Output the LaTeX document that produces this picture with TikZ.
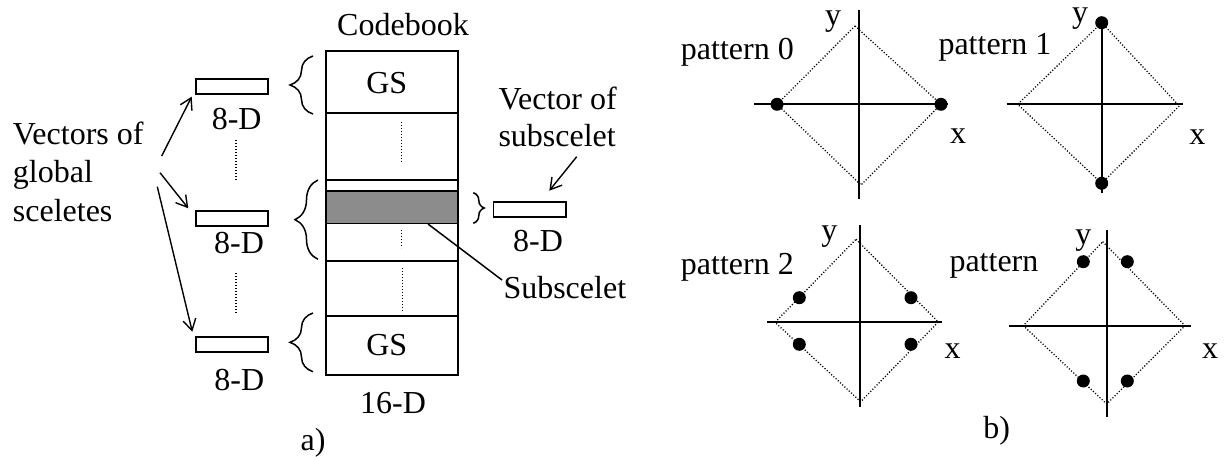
\documentclass[tikz,border=0pt]{standalone}
\usepackage{fontspec}
\setmainfont{Liberation Serif}
\usetikzlibrary{arrows.meta,decorations.pathreplacing}
\begin{document}
\begin{tikzpicture}[x=1pt,y=-1pt,
  every node/.style={inner sep=0pt, font=\fontsize{32}{38.3}\selectfont},
  cell/.style={draw, line width=1.8pt, minimum width=132pt},
  vec/.style={draw, line width=1.8pt, minimum width=72.6pt, minimum height=14.8pt},
  dotl/.style={line width=1.2pt, dash pattern=on 1.1pt off 1.9pt},
  arr/.style={line width=1.4pt, -{Straight Barb[length=11pt,width=13pt,line width=1.4pt]}},
  brc/.style={decorate, decoration={brace, amplitude=#1}, line width=1.5pt},
  axis/.style={line width=2pt},
  diam/.style={line width=1.3pt, dash pattern=on 1.1pt off 1.9pt},
  dot/.style={circle, fill, minimum size=13pt}
]
\useasboundingbox (0,0) rectangle (1224,457);

% ---------- part a) ----------
\node[anchor=base] (cbk) at (403,36) {Codebook};
\node[cell, minimum height=62pt] (r1) at (392,81.7) {};
\node[cell, minimum height=67.3pt] (r2) at (392,146.35) {};
\node[cell, minimum height=10.7pt] (r3) at (392,185.35) {};
\node[cell, minimum height=32.8pt, fill=black!45] (r4) at (392,207.1) {};
\node[cell, minimum height=37.2pt] (r5) at (392,242.1) {};
\node[cell, minimum height=55pt] (r6) at (392,288.2) {};
\node[cell, minimum height=59.3pt] (r7) at (392,345.35) {};
\node[anchor=base] (gs1) at (386.7,93.3) {GS};
\node[anchor=base] (gs2) at (386.7,355) {GS};
\node[anchor=base] (d16) at (393,413.3) {16-D};
\node[anchor=base] (la) at (313,450) {a)};

\draw[dotl] (401.7,121.7) -- (401.7,163);
\draw[dotl] (401.7,230) -- (401.7,248);
\draw[dotl] (402.7,268) -- (402.7,313);

% left vectors
\node[vec] (v1) at (232,86.35) {};
\node[vec] (v2) at (232,218.5) {};
\node[vec] (v3) at (232,344.2) {};
\node[anchor=base] (d1) at (236.7,129.3) {8-D};
\node[anchor=base] (d2) at (239,253.3) {8-D};
\node[anchor=base] (d3) at (239.3,390.7) {8-D};
\draw[dotl] (236,140) -- (236,181.7);
\draw[dotl] (236,273.3) -- (236,315);

% braces
\draw[brc=23pt] (313,114) -- (313,56);
\draw[brc=23pt] (318,259.3) -- (318,180);
\draw[brc=23pt] (313,371.7) -- (313,313);
\draw[brc=11pt] (473.3,192.7) -- (473.3,223.3);

% left text and arrows
\node[anchor=north west, align=left] (vg) at (12.7,121.7) {Vectors of\\global\\sceletes};
\coordinate (s1) at (161.7,156);
\coordinate (s2) at (160,172.7);
\coordinate (s3) at (157.3,186.7);
\coordinate (t1) at (191.7,96.7);
\coordinate (t2) at (188.3,208.3);
\coordinate (t3) at (192.3,331.7);
\draw[arr] (s1) -- (t1);
\draw[arr] (s2) -- (t2);
\draw[arr] (s3) -- (t3);

% right vector
\node[vec] (vr) at (529.7,209.8) {};
\node[anchor=base] (dr) at (538,251.7) {8-D};
\node[anchor=base west] (vs1) at (498.3,110) {Vector of};
\node[anchor=base west] (vs2) at (498.3,146.7) {subscelet};
\coordinate (s4) at (576.7,156.7);
\coordinate (t4) at (549.3,190.7);
\draw[arr] (s4) -- (t4);

% subscelet
\node[anchor=base west] (sub) at (503.3,298.3) {Subscelet};
\coordinate (ss) at (428,224);
\coordinate (se) at (502,280);
\draw[line width=1.5pt] (ss) -- (se);

% ---------- part b) ----------
% pattern 0
\node[anchor=base west] (pl0) at (680.7,60) {pattern 0};
\draw[axis] (754,104.3) -- (948.3,104.3);
\draw[axis] (859.3,10) -- (859.3,199.3);
\coordinate (p0t) at (855,26);
\coordinate (p0r) at (941,104.3);
\coordinate (p0b) at (861,185);
\coordinate (p0l) at (777,104.3);
\draw[diam] (p0t) -- (p0r) -- (p0b) -- (p0l) -- cycle;
\node[dot] (p0d1) at (p0l) {};
\node[dot] (p0d2) at (p0r) {};
\node[anchor=base] (p0y) at (833,25.5) {y};
\node[anchor=base] (p0x) at (958,143.3) {x};

% pattern 1
\node[anchor=base west] (pl1) at (938.3,55) {pattern 1};
\draw[axis] (1006.7,104.3) -- (1182.7,104.3);
\draw[axis] (1101.7,16.7) -- (1101.7,192.7);
\coordinate (p1t) at (1101.7,22.7);
\coordinate (p1r) at (1179.3,106);
\coordinate (p1b) at (1101.7,183.3);
\coordinate (p1l) at (1017.7,104.3);
\draw[diam] (p1t) -- (p1r) -- (p1b) -- (p1l) -- cycle;
\node[dot] (p1d1) at (p1t) {};
\node[dot] (p1d2) at (p1b) {};
\node[anchor=base] (p1y) at (1080,23) {y};
\node[anchor=base] (p1x) at (1197.3,145) {x};

% pattern 2
\node[anchor=base west] (pl2) at (680.7,275) {pattern 2};
\draw[axis] (766.7,322.3) -- (941.7,322.3);
\draw[axis] (860,225) -- (860,407.3);
\coordinate (p2t) at (856,239.3);
\coordinate (p2r) at (938.3,322);
\coordinate (p2b) at (860.7,401.7);
\coordinate (p2l) at (775,322.3);
\draw[diam] (p2t) -- (p2r) -- (p2b) -- (p2l) -- cycle;
\node[dot] (p2d1) at (799.3,297.7) {};
\node[dot] (p2d2) at (911,297.7) {};
\node[dot] (p2d3) at (799.3,344.3) {};
\node[dot] (p2d4) at (911,344.3) {};
\node[anchor=base] (p2y) at (829.3,241) {y};
\node[anchor=base] (p2x) at (952.7,358.3) {x};

% pattern 3
\node[anchor=base west] (pl3) at (949.3,271.7) {pattern};
\draw[axis] (1009.3,325.7) -- (1191,325.7);
\draw[axis] (1106.7,230) -- (1106.7,416.7);
\coordinate (p3t) at (1102.7,241.7);
\coordinate (p3r) at (1185,325.7);
\coordinate (p3b) at (1106.7,404);
\coordinate (p3l) at (1023.3,325.7);
\draw[diam] (p3t) -- (p3r) -- (p3b) -- (p3l) -- cycle;
\node[dot] (p3d1) at (1083.3,261.7) {};
\node[dot] (p3d2) at (1127.3,261.7) {};
\node[dot] (p3d3) at (1083.3,381) {};
\node[dot] (p3d4) at (1127.3,381) {};
\node[anchor=base] (p3y) at (1083.3,244) {y};
\node[anchor=base] (p3x) at (1210,358.3) {x};

\node[anchor=base] (lb) at (996.7,438) {b)};
\end{tikzpicture}
\end{document}
